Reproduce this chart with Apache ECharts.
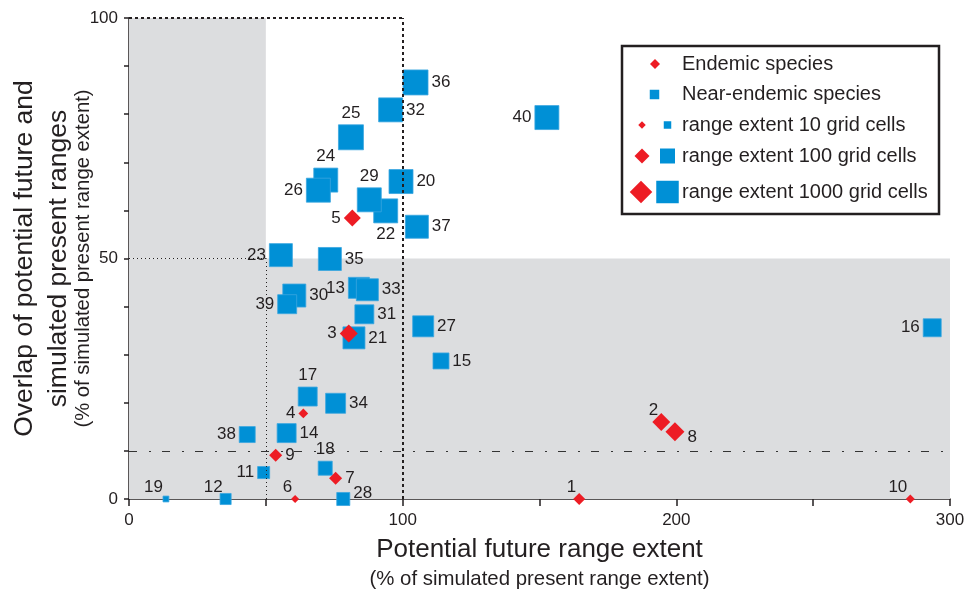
<!DOCTYPE html>
<html>
<head>
<meta charset="utf-8">
<script src="https://cdn.jsdelivr.net/npm/echarts@6/dist/echarts.min.js"></script>
<style>
html, body { margin: 0; background: #fff; }
#chart { width: 967px; height: 590px; }
</style>
</head>
<body>
<div id="chart"></div>
<script>
// species 1-10 are endemic, 11-40 near-endemic
const endemicIds = [1, 2, 3, 4, 5, 6, 7, 8, 9, 10];
const endemicExtent = [164.5, 194.5, 80.3, 63.7, 81.6, 60.7, 75.5, 199.5, 53.6, 285.5];
const endemicOverlap = [0, 16.0, 34.4, 17.8, 58.4, 0, 4.3, 14.0, 9.1, 0];
const endemicCells = [40, 250, 250, 20, 185, 12, 55, 340, 55, 16];

const nearIds = [11, 12, 13, 14, 15, 16, 17, 18, 19, 20, 21, 22, 23, 24, 25,
  26, 27, 28, 29, 30, 31, 32, 33, 34, 35, 36, 37, 38, 39, 40];
const nearExtent = [49.2, 35.3, 84.0, 57.6, 114.0, 293.5, 65.3, 71.7, 13.5, 99.4,
  82.2, 93.8, 55.5, 71.9, 81.1, 69.2, 107.5, 78.3, 87.8, 60.4,
  86.0, 95.6, 87.1, 75.5, 73.4, 104.7, 105.2, 43.2, 57.8, 152.7];
const nearOverlap = [5.5, 0, 43.9, 13.7, 28.7, 35.6, 21.3, 6.4, 0, 66.0,
  33.5, 59.9, 50.7, 66.3, 75.2, 64.2, 35.9, 0, 62.2, 42.3,
  38.4, 80.9, 43.5, 19.9, 49.9, 86.6, 56.6, 13.4, 40.5, 79.3];
const nearCells = [40, 30, 630, 340, 135, 250, 340, 75, 6, 1580,
  860, 1580, 1170, 1580, 2150, 1580, 630, 55, 1580, 1170,
  340, 1580, 860, 460, 1170, 2150, 1170, 135, 340, 1580];

const legendCells = [10, 100, 1000];
const xTicks = [0, 100, 200, 300];
const yTicks = [0, 50, 100];

const RED = '#ed1c24';
const BLUE = '#0090d6';
const INK = '#231f20';
const FONT = 'Liberation Sans, Arial, sans-serif';

// marker size grows with log of range extent
function sizeOf(cells) {
  return 7.5 * Math.log10(cells);
}

// where each number sits around its marker
const labelPlace = {
  1: 'tl', 2: 'tl', 3: 'l', 4: 'l', 5: 'l', 6: 'tl', 7: 'r', 8: 'rd', 9: 'r', 10: 'tl',
  11: 'l', 12: 'tl', 13: 'l', 14: 'r', 15: 'r', 16: 'l', 17: 't', 18: 't', 19: 'tl', 20: 'r',
  21: 'r', 22: 'b', 23: 'l', 24: 't', 25: 't', 26: 'l', 27: 'r', 28: 'ru', 29: 't', 30: 'r',
  31: 'r', 32: 'r', 33: 'r', 34: 'r', 35: 'r', 36: 'r', 37: 'r', 38: 'l', 39: 'l', 40: 'l'
};

function labelFor(id) {
  const lab = { show: true, formatter: String(id), fontSize: 17, color: INK, fontFamily: FONT, distance: 3 };
  const p = labelPlace[id];
  if (p === 'r') lab.position = 'right';
  else if (p === 'l') lab.position = 'left';
  else if (p === 't') lab.position = 'top';
  else if (p === 'b') lab.position = 'bottom';
  else if (p === 'rd') { lab.position = 'right'; lab.offset = [0, 6]; }
  else if (p === 'ru') { lab.position = 'right'; lab.offset = [0, -6]; }
  else if (p === 'tl') {
    lab.position = 'inside';
    lab.align = 'right';
    lab.verticalAlign = 'bottom';
    lab.offset = [-3, -3];
  }
  return lab;
}

function buildPoints(ids, xs, ys, cells) {
  return ids.map((id, i) => ({
    value: [xs[i], ys[i]],
    symbolSize: sizeOf(cells[i]),
    label: labelFor(id)
  }));
}

// legend drawn by hand: two symbols per size row
function diamond(cx, cy, s) {
  return {
    type: 'polygon',
    shape: { points: [[cx, cy - s / 2], [cx + s / 2, cy], [cx, cy + s / 2], [cx - s / 2, cy]] },
    style: { fill: RED }
  };
}
function square(cx, cy, s) {
  return { type: 'rect', shape: { x: cx - s / 2, y: cy - s / 2, width: s, height: s }, style: { fill: BLUE } };
}
function legText(y, str) {
  return { type: 'text', x: 682, y: y, style: { text: str, fontSize: 20, fill: INK, fontFamily: FONT, verticalAlign: 'middle' } };
}

const legendRows = [64, 94.5, 125, 156, 192];
const legendEls = [
  { type: 'rect', shape: { x: 622, y: 46, width: 317, height: 168 }, style: { fill: '#fff', stroke: INK, lineWidth: 2.5 } },
  diamond(655, legendRows[0], 10), legText(legendRows[0], 'Endemic species'),
  square(654.5, legendRows[1], 9.5), legText(legendRows[1], 'Near-endemic species')
];
legendCells.forEach((c, i) => {
  const y = legendRows[i + 2];
  const s = sizeOf(c);
  legendEls.push(diamond(642 - (s > 20 ? 1 : 0), y, s));
  legendEls.push(square(667.5, y, s));
  legendEls.push(legText(y, 'range extent ' + c + ' grid cells'));
});

const chart = echarts.init(document.getElementById('chart'));

const option = {
  backgroundColor: '#fff',
  animation: false,
  grid: { left: 129, right: 17, top: 18, bottom: 91, containLabel: false, outerBoundsMode: 'none' },
  xAxis: {
    type: 'value', min: 0, max: 300, interval: 50,
    axisLine: { show: true, onZero: false, lineStyle: { color: INK, width: 1.5 } },
    axisTick: { show: true, length: 7, lineStyle: { color: INK, width: 1.5 } },
    axisLabel: {
      fontSize: 17, color: INK, fontFamily: FONT, margin: 13,
      formatter: v => (xTicks.includes(v) ? String(v) : '')
    },
    splitLine: { show: false },
    name: '{a|Potential future range extent}\n{b|(% of simulated present range extent)}',
    nameLocation: 'middle',
    nameGap: 36,
    nameMoveOverlap: false,
    nameTextStyle: {
      fontFamily: FONT, color: INK,
      rich: {
        a: { fontSize: 26, lineHeight: 30, color: INK, fontFamily: FONT },
        b: { fontSize: 20.4, lineHeight: 28, color: INK, fontFamily: FONT }
      }
    }
  },
  yAxis: {
    type: 'value', min: 0, max: 100, interval: 10,
    axisLine: { show: true, onZero: false, lineStyle: { color: INK, width: 1.5 } },
    axisTick: { show: true, length: 5, lineStyle: { color: INK, width: 1.5 } },
    axisLabel: {
      fontSize: 17, color: INK, fontFamily: FONT, margin: 11,
      formatter: v => (yTicks.includes(v) ? String(v) : '')
    },
    splitLine: { show: false },
    name: '{a|Overlap of potential future and}\n{c|simulated present ranges}\n{b|(% of simulated present range extent)}',
    nameLocation: 'middle',
    nameRotate: 90,
    nameGap: 35,
    nameMoveOverlap: false,
    nameTextStyle: {
      fontFamily: FONT, color: INK,
      rich: {
        a: { fontSize: 26.5, lineHeight: 42, color: INK, fontFamily: FONT },
        c: { fontSize: 26.5, lineHeight: 26, color: INK, fontFamily: FONT },
        b: { fontSize: 20.3, lineHeight: 22, color: INK, fontFamily: FONT }
      }
    }
  },
  graphic: legendEls,
  series: [
    {
      // shaded quadrants
      type: 'scatter', data: [], z: 0, silent: true,
      markArea: {
        silent: true,
        itemStyle: { color: '#dcdddf' },
        data: [
          [{ xAxis: 0, yAxis: 50 }, { xAxis: 50, yAxis: 100 }],
          [{ xAxis: 0, yAxis: 0 }, { xAxis: 300, yAxis: 50 }]
        ]
      }
    },
    {
      name: 'Endemic species',
      type: 'scatter', symbol: 'diamond', clip: false, z: 3,
      itemStyle: { color: RED, opacity: 1 },
      data: buildPoints(endemicIds, endemicExtent, endemicOverlap, endemicCells)
    },
    {
      name: 'Near-endemic species',
      type: 'scatter', symbol: 'rect', clip: false, z: 2,
      itemStyle: { color: BLUE, opacity: 1, borderColor: '#3aa6e0', borderWidth: 0.8 },
      data: buildPoints(nearIds, nearExtent, nearOverlap, nearCells)
    },
    {
      // threshold lines
      type: 'scatter', data: [], z: 5, silent: true,
      markLine: {
        silent: true, symbol: 'none', label: { show: false },
        data: [
          [{ coord: [100, 0], lineStyle: { color: INK, width: 2, type: [3, 3] } }, { coord: [100, 100] }],
          [{ coord: [0, 100], lineStyle: { color: INK, width: 2, type: [3, 3] } }, { coord: [100, 100] }],
          [{ coord: [50, 0], lineStyle: { color: INK, width: 1, type: [1, 3] } }, { coord: [50, 50] }],
          [{ coord: [0, 50], lineStyle: { color: INK, width: 1, type: [1, 3] } }, { coord: [50, 50] }],
          [{ coord: [0, 10], lineStyle: { color: '#333', width: 1, type: [8, 12, 2, 11] } }, { coord: [300, 10] }]
        ]
      }
    }
  ]
};

chart.setOption(option);
</script>
</body>
</html>
